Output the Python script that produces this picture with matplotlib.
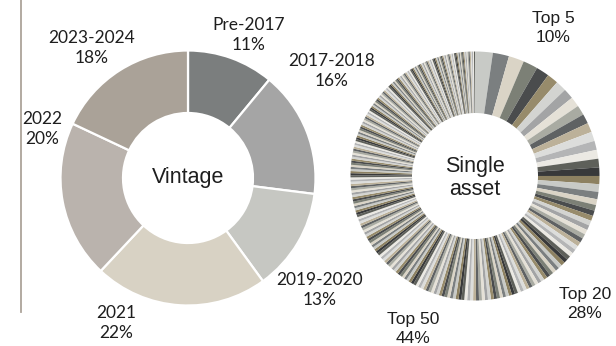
import matplotlib.pyplot as plt

# Vintage split (clockwise from 12 o'clock)
vintage_labels = ["Pre-2017", "2017-2018", "2019-2020", "2021", "2022", "2023-2024"]
vintage_share = [11, 16, 13, 22, 20, 18]
vintage_colors = ["#7b7e7e", "#a5a5a5", "#c6c7c2", "#d8d2c4", "#bab3ad", "#aaa298"]

# Single asset weights (%), largest first
top5 = [2.3, 2.1, 2.0, 1.9, 1.7]
next15 = [1.45, 1.40, 1.35, 1.30, 1.28, 1.25, 1.22, 1.20, 1.18, 1.15,
          1.12, 1.10, 1.05, 1.00, 0.95]
next30 = [0.76, 0.74, 0.70, 0.67, 0.64, 0.64, 0.62, 0.60, 0.59, 0.58,
          0.56, 0.55, 0.54, 0.53, 0.52, 0.51, 0.50, 0.49, 0.48, 0.48,
          0.47, 0.46, 0.45, 0.44, 0.43, 0.42, 0.42, 0.41, 0.40, 0.40]
tail = [0.40, 0.40, 0.40, 0.40, 0.40, 0.39, 0.39, 0.39, 0.39, 0.39,
        0.39, 0.39, 0.38, 0.38, 0.38, 0.38, 0.38, 0.38, 0.38, 0.37,
        0.37, 0.37, 0.37, 0.37, 0.37, 0.37, 0.36, 0.36, 0.36, 0.36,
        0.36, 0.36, 0.36, 0.36, 0.35, 0.35, 0.35, 0.35, 0.35, 0.35,
        0.35, 0.34, 0.34, 0.34, 0.34, 0.34, 0.34, 0.34, 0.33, 0.33,
        0.33, 0.33, 0.33, 0.33, 0.33, 0.33, 0.32, 0.32, 0.32, 0.32,
        0.32, 0.32, 0.32, 0.31, 0.31, 0.31, 0.31, 0.31, 0.31, 0.31,
        0.30, 0.30, 0.30, 0.30, 0.30, 0.30, 0.30, 0.29, 0.29, 0.29,
        0.29, 0.29, 0.29, 0.29, 0.28, 0.28, 0.28, 0.28, 0.28, 0.28,
        0.28, 0.27, 0.27, 0.27, 0.27, 0.27, 0.27, 0.27, 0.26, 0.26,
        0.26, 0.26, 0.26, 0.26, 0.26, 0.26, 0.25, 0.25, 0.25, 0.25,
        0.25, 0.25, 0.25, 0.25, 0.24, 0.24, 0.24, 0.24, 0.24, 0.24,
        0.24, 0.23, 0.23, 0.23, 0.23, 0.23, 0.23, 0.23, 0.22, 0.22,
        0.22, 0.22, 0.22, 0.22, 0.22, 0.22, 0.21, 0.21, 0.21, 0.21,
        0.21, 0.21, 0.21, 0.21, 0.21, 0.20, 0.20, 0.20, 0.20, 0.20,
        0.20, 0.20, 0.20, 0.20, 0.19, 0.19, 0.19, 0.19, 0.19, 0.19,
        0.19, 0.19, 0.19, 0.18, 0.18, 0.18, 0.18, 0.18, 0.18, 0.18,
        0.18, 0.18, 0.18, 0.18, 0.17, 0.17, 0.17, 0.17, 0.17, 0.17,
        0.17, 0.17, 0.17, 0.17, 0.17, 0.16, 0.16, 0.16, 0.16, 0.16,
        0.16, 0.16, 0.16, 0.16, 0.16, 0.15, 0.15, 0.15, 0.15, 0.15,
        0.15, 0.15, 0.15, 0.15, 0.15, 0.15, 0.14, 0.14, 0.14, 0.14,
        0.14, 0.14, 0.14, 0.14, 0.14, 0.14, 0.13, 0.13]
asset_palette = ["#c8cac6", "#7b7f80", "#dad4c6", "#7c8076", "#4a4c4d", "#978b6b",
                 "#d3d4d1", "#a3a4a5", "#e5e1d7", "#a9aba2", "#5f6263", "#bcb199",
                 "#dcdddb", "#b4b5b6", "#ebe9e3", "#5e605a", "#38393a", "#8d8161"]
bucket_labels = ["Top 5", "Top 20", "Top 50"]
bucket_share = [10, 28, 44]

W, H = 616, 346
fig = plt.figure(figsize=(W / 100, H / 100), dpi=100)
ax = fig.add_axes([0, 0, 1, 1])
ax.set_xlim(0, W)
ax.set_ylim(0, H)
ax.set_aspect("equal")
ax.axis("off")

txt = "#1e1e1e"
lato = ["Lato", "DejaVu Sans"]
arial = ["Liberation Sans", "DejaVu Sans"]

# left donut
ax.pie(vintage_share, colors=vintage_colors, startangle=90, counterclock=False,
       center=(188, H - 178), radius=127.5,
       wedgeprops=dict(width=62.5, edgecolor="white", linewidth=1.6))
vintage_pos = [(249, 35), (332, 71), (320, 290), (116, 323), (42, 129), (92, 48)]
for name, val, (x, y) in zip(vintage_labels, vintage_share, vintage_pos):
    ax.text(x, H - y, f"{name}\n{val}%", ha="center", va="center",
            fontsize=12.5, family=lato, color=txt, linespacing=1.35)
ax.text(188, H - 178, "Vintage", ha="center", va="center",
        fontsize=15.5, family=arial, color=txt)

# right donut, no borders between the slices
weights = top5 + next15 + next30 + tail
asset_colors = [asset_palette[i % len(asset_palette)] for i in range(len(weights))]
ax.pie(weights, colors=asset_colors, startangle=90, counterclock=False,
       center=(475, H - 176), radius=124.5,
       wedgeprops=dict(width=61.5, linewidth=0))
bucket_pos = [(553, 28), (585, 304), (413, 329)]
for name, val, (x, y) in zip(bucket_labels, bucket_share, bucket_pos):
    ax.text(x, H - y, f"{name}\n{val}%", ha="center", va="center",
            fontsize=12.5, family=arial, color=txt, linespacing=1.3)
ax.text(475, H - 178, "Single\nasset", ha="center", va="center",
        fontsize=15.5, family=arial, color=txt, linespacing=1.15)

# thin divider on the left
ax.plot([20.5, 20.5], [H, H - 312], color="#aca49a", linewidth=1.3)

ax.set_xlim(0, W)
ax.set_ylim(0, H)
fig.savefig("out.png", dpi=100)
